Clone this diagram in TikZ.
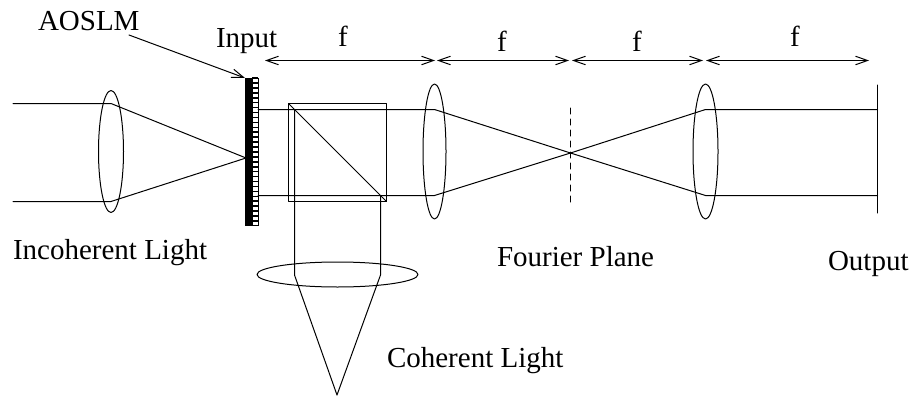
\documentclass[tikz,border=0pt]{standalone}
\usepackage{fontspec}
\setmainfont{Liberation Serif}
\usetikzlibrary{arrows.meta,shapes.geometric}
\tikzset{
  ln/.style={line width=1pt,line cap=round,line join=round},
  lens/.style={draw,ln,ellipse,inner sep=0pt,outer sep=0pt},
  lbl/.style={anchor=base west,inner sep=0pt,outer sep=0pt,font=\fontsize{29}{32}\selectfont},
  dim/.style={ln,{Straight Barb[length=12pt,width=8.5pt,line width=1pt]}-{Straight Barb[length=12pt,width=8.5pt,line width=1pt]}},
  lead/.style={ln,-{Straight Barb[length=12pt,width=8.5pt,line width=1pt]}}
}
\begin{document}
\begin{tikzpicture}[x=1pt,y=-1pt]
\useasboundingbox (0,0) rectangle (912,396);
% lenses
\node[lens,minimum width=25pt,minimum height=122pt] (L1) at (111,151.5) {};
\node[lens,minimum width=23pt,minimum height=135pt] (L2) at (434.5,151.5) {};
\node[lens,minimum width=25pt,minimum height=135pt] (L3) at (705.5,151.5) {};
\node[lens,minimum width=161pt,minimum height=25pt] (L4) at (337.5,274.5) {};
% key points
\coordinate (s1) at (13,103.5); \coordinate (s2) at (13,201.5);
\coordinate (a1) at (111,103.5); \coordinate (a2) at (111,201.5);
\coordinate (slm) at (246,158);
\coordinate (u0) at (258,109.5); \coordinate (d0) at (258,195.5);
\coordinate (u1) at (434.5,109.5); \coordinate (d1) at (434.5,195.5);
\coordinate (fp) at (570.5,153);
\coordinate (u2) at (705.5,109.5); \coordinate (d2) at (705.5,195.5);
\coordinate (u3) at (877.5,109.5); \coordinate (d3) at (877.5,195.5);
\coordinate (c1) at (294.5,109.5); \coordinate (c2) at (380.5,195.5);
\coordinate (e1) at (294.5,275); \coordinate (e2) at (380.5,275);
\coordinate (tip) at (337,395);
% rays
\draw[ln] (s1) -- (a1) -- (slm) -- (a2) -- (s2);
\draw[ln] (u0) -- (u1) -- (fp) -- (d2) -- (d3);
\draw[ln] (d0) -- (d1) -- (fp) -- (u2) -- (u3);
\draw[ln] (c1) -- (e1) -- (tip) -- (e2) -- (c2);
% cube
\draw[ln] (288.5,103.5) rectangle (386.5,201.5);
\draw[ln] (288.5,103.5) -- (386.5,201.5);
% SLM
\fill (245,78) rectangle (252,226);
\draw[line width=0.9pt] (252,78.5) rectangle (258,225.5);
\foreach \i in {0,...,29} \draw[line width=1.6pt] (252,{78+4.93*\i}) -- (258,{78+4.93*\i});
% planes
\draw[ln] (877.5,85) -- (877.5,213);
\draw[ln,dash pattern=on 6pt off 5pt] (570.5,108) -- (570.5,202);
% f arrows
\coordinate (f0) at (265,60.5); \coordinate (f1) at (435,60.5);
\coordinate (f2) at (437,60.5); \coordinate (f3) at (569,60.5);
\coordinate (f4) at (572,60.5); \coordinate (f5) at (703,60.5);
\coordinate (f6) at (706,60.5); \coordinate (f7) at (869,60.5);
\draw[dim] (f0) -- (f1);
\draw[dim] (f2) -- (f3);
\draw[dim] (f4) -- (f5);
\draw[dim] (f6) -- (f7);
% labels
\node[lbl] (t1) at (38,31) {AOSLM};
\node[lbl] (t2) at (216,48) {Input};
\node[lbl] (t3) at (13,259) {Incoherent Light};
\node[lbl] (t4) at (497,266) {Fourier Plane};
\node[lbl] (t5) at (387,367) {Coherent Light};
\node[lbl] (t6) at (828,270) {Output};
\node[lbl] (f_a) at (338,47) {f};
\node[lbl] (f_b) at (497,52) {f};
\node[lbl] (f_c) at (632,52) {f};
\node[lbl] (f_d) at (790,47) {f};
\coordinate (lead0) at (129,35); \coordinate (lead1) at (245,78);
\draw[lead] (lead0) -- (lead1);
\end{tikzpicture}
\end{document}
